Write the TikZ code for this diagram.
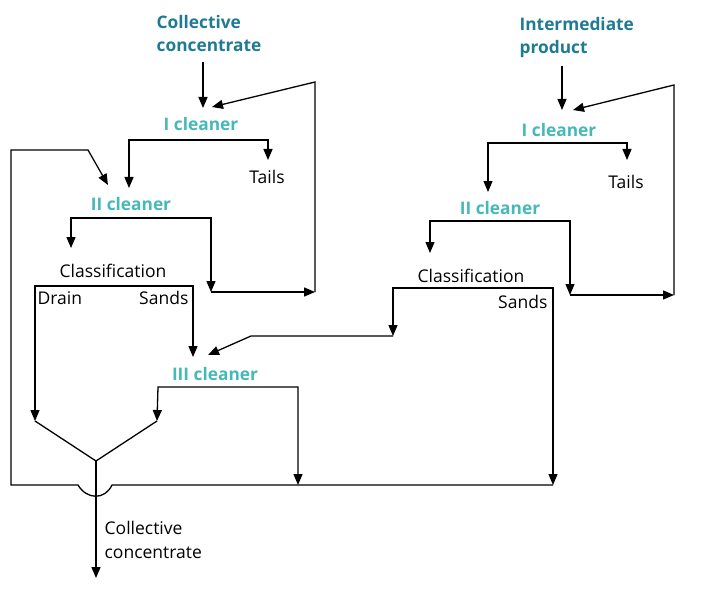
\documentclass[tikz,border=0pt]{standalone}
\usepackage{fontspec}
\setmainfont{Open Sans}
\usetikzlibrary{arrows.meta, positioning}
\definecolor{feedteal}{HTML}{1F7A93}
\definecolor{stageteal}{HTML}{45B8B8}

\begin{document}
\begin{tikzpicture}[x=1pt, y=-1pt, line width=1.3pt,
    txt/.style={font=\fontsize{17.5}{23.5}\selectfont, inner sep=0pt, align=left},
    feed/.style={font=\bfseries\fontsize{17.3}{23}\selectfont, text=feedteal, inner sep=0pt, align=left},
    stage/.style={font=\bfseries\fontsize{17.3}{23}\selectfont, text=stageteal, inner sep=0pt},
    arr/.style={-{Triangle[length=11pt, width=9pt]}},
    arrs/.style={{Triangle[length=11pt, width=9pt]}-{Triangle[length=11pt, width=9pt]}}
]
    \useasboundingbox (0,0) rectangle (723,599);

    % feeds and stages
    \node[feed] (cc) at (209,34) {Collective\\concentrate};
    \node[feed, anchor=west] (ip) at (519,38) {Intermediate\\product};
    \node[stage] (clA1) at (201,124) {I cleaner};
    \node[stage] (clA2) at (131,204) {II cleaner};
    \node[stage] (clA3) at (215,374) {III cleaner};
    \node[stage] (clB1) at (559,130) {I cleaner};
    \node[stage] (clB2) at (500,208) {II cleaner};

    % other labels
    \node[txt] (tailsA) at (267,177) {Tails};
    \node[txt] (tailsB) at (626,182) {Tails};
    \node[txt] (clsA) at (113,271) {Classification};
    \node[txt] (clsB) at (471,276) {Classification};
    \node[txt, anchor=west] (drain) at (37,298) {Drain};
    \node[txt, anchor=east] (sandsA) at (189,298) {Sands};
    \node[txt, anchor=east] (sandsB) at (548,302) {Sands};
    \node[txt, anchor=west] (out) at (104,540) {Collective\\concentrate};

    % junction points
    \coordinate (inA) at (203,108);
    \coordinate (recA) at (212,107);
    \coordinate (inB) at (562,110);
    \coordinate (recB) at (573,110);
    \coordinate (loopIn) at (108,185);
    \coordinate (midIn) at (208,355);
    \coordinate (mergeL) at (35,421);
    \coordinate (mergeR) at (157,421);
    \coordinate (merge) at (96,461);
    \coordinate (endA) at (298,485);
    \coordinate (endB) at (553,485);
    \coordinate (sink) at (96,578);

    % left circuit
    \draw[arr] (cc.south -| inA) ++(0,9) -- (inA);
    \draw[arr] (129,140) -- (268,140) -- (268,160);
    \draw[arr] (268,140) -- (129,140) -- (129,188);
    \draw[arr] (211,218) -- (71,218) -- (71,248);
    \draw[arr] (71,218) -- (211,218) -- (211,292);
    \draw[arr] (211,292) -- (315,292);
    \draw[arr] (315,292) -- (315,82) -- (recA);
    \draw[arrs] (mergeL) -- (35,286) -- (193,286) -- (193,357);
    \draw[arrs] (mergeR) -- (158,387) -- (298,387) -- (endA);
    \draw (mergeL) -- (merge) -- (mergeR);
    \draw[arr] (merge) -- (sink);

    % bottom return line with hop
    \draw[arr] (endB) -- (112,485) .. controls (105,500) and (87,500) .. (78,485)
        -- (11,485) -- (11,150) -- (88,150) -- (loopIn);

    % right circuit
    \draw[arr] (ip.south -| inB) ++(0,7) -- (inB);
    \draw[arr] (488,143) -- (627,143) -- (627,160);
    \draw[arr] (627,143) -- (488,143) -- (488,192);
    \draw[arr] (570,221) -- (430,221) -- (430,253);
    \draw[arr] (430,221) -- (570,221) -- (570,295);
    \draw[arr] (570,295) -- (674,295);
    \draw[arr] (674,295) -- (674,85) -- (recB);
    \draw[arrs] (393,336) -- (393,288) -- (553,288) -- (endB);
    \draw[arr] (393,336) -- (251,336) -- (midIn);
\end{tikzpicture}
\end{document}
